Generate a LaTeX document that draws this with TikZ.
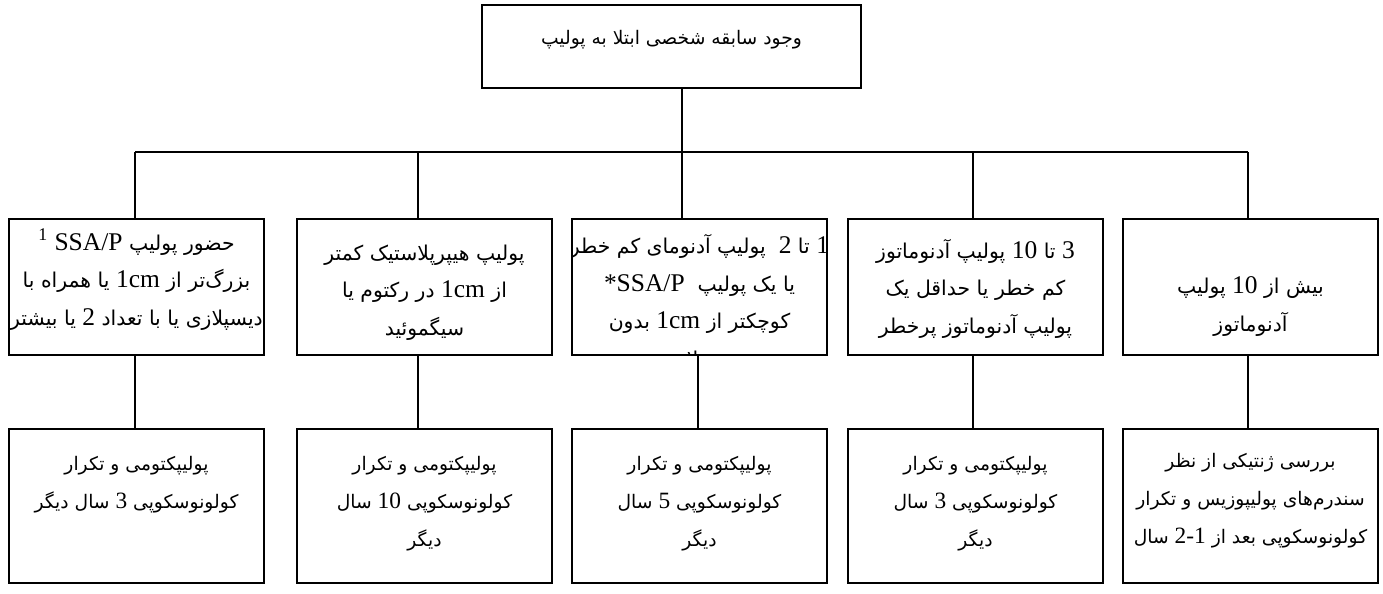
\documentclass[tikz,border=0pt]{standalone}
\usepackage{fontspec}
\setmainfont{Liberation Serif}
\newfontfamily\fafont[Script=Arabic,Scale=0.8]{DejaVu Sans}
\TeXXeTstate=1
\newcommand{\fa}[1]{{\fafont\beginR #1\endR}}
\newcommand{\en}[1]{{\rmfamily\beginL #1\endL}}
\tikzset{box/.style={draw,line width=1pt,inner sep=0pt},
	rootbox/.style={box,minimum width=7.58cm,minimum height=1.66cm},
	casebox/.style={box,minimum width=5.1cm,minimum height=2.72cm},
	actbox/.style={box,minimum width=5.1cm,minimum height=3.08cm},
	txt/.style={anchor=base,align=center,inner sep=0pt,
		font=\fontsize{14.5}{21.3}\selectfont},
	small/.style={txt,font=\fontsize{13.3}{21.5}\selectfont},
	link/.style={draw,line width=1pt}}

\begin{document}
\begin{tikzpicture}[x=0.02cm,y=-0.02cm]
\useasboundingbox (0,0) rectangle (1383,593);
\node [rootbox] (root) at (671.5,46.5) {};
\node [small] (roott) at (671.5,44) {\fa{وجود سابقه شخصی ابتلا به پولیپ}};
\coordinate (b1) at (135,152);
\coordinate (b2) at (418,152);
\coordinate (b3) at (682,152);
\coordinate (b4) at (973,152);
\coordinate (b5) at (1248,152);
\coordinate (k3) at (698,400);
\node [casebox] (p1) at (136.5,287) {};
\node [casebox] (p2) at (424.5,287) {};
\node [casebox] (p3) at (699.5,287) {};
\node [casebox] (p4) at (975.5,287) {};
\node [casebox] (p5) at (1250.5,287) {};
\node [actbox] (r1) at (136.5,506) {};
\node [actbox] (r2) at (424.5,506) {};
\node [actbox] (r3) at (699.5,506) {};
\node [actbox] (r4) at (975.5,506) {};
\node [actbox] (r5) at (1250.5,506) {};
% base = last line
\node [txt] (p1t) at (136.5,325) {\fa{حضور پولیپ \en{SSA/P} \en{\textsuperscript{1}}}\\
	\fa{بزرگ‌تر از \en{1cm} یا همراه با}\\
	\fa{دیسپلازی یا با تعداد \en{2} یا بیشتر}};
\node [txt] (p2t) at (424.5,335) {\fa{پولیپ هیپرپلاستیک کمتر}\\
	\fa{از \en{1cm} در رکتوم یا}\\
	\fa{سیگموئید}};
\begin{scope}
\clip (p3.north west) rectangle (p3.south east);
\node [txt] (p3t) at (699.5,366) {\fa{\en{1} تا \en{2} \ پولیپ آدنومای کم خطر}\\
	\fa{یا یک پولیپ \ \en{SSA/P}\en{*}}\\
	\fa{کوچکتر از \en{1cm} بدون}\\
	\fa{دیسپلازی}};
\end{scope}
\node [txt] (p4t) at (975.5,333) {\fa{\en{3} تا \en{10} پولیپ آدنوماتوز}\\
	\fa{کم خطر یا حداقل یک}\\
	\fa{پولیپ آدنوماتوز پرخطر}};
\node [txt] (p5t) at (1250.5,331) {\fa{بیش از \en{10} پولیپ}\\
	\fa{آدنوماتوز}};
\node [small] (r1t) at (136.5,508) {\fa{پولیپکتومی و تکرار}\\
	\fa{کولونوسکوپی \en{3} سال دیگر}};
\node [small] (r2t) at (424.5,546) {\fa{پولیپکتومی و تکرار}\\
	\fa{کولونوسکوپی \en{10} سال}\\
	\fa{دیگر}};
\node [small] (r3t) at (699.5,546) {\fa{پولیپکتومی و تکرار}\\
	\fa{کولونوسکوپی \en{5} سال}\\
	\fa{دیگر}};
\node [small] (r4t) at (975.5,546) {\fa{پولیپکتومی و تکرار}\\
	\fa{کولونوسکوپی \en{3} سال}\\
	\fa{دیگر}};
\node [small] (r5t) at (1250.5,543) {\fa{بررسی ژنتیکی از نظر}\\
	\fa{سندرم‌های پولیپوزیس و تکرار}\\
	\fa{کولونوسکوپی بعد از \en{2-1} سال}};
\path [link] (root.south -| b3) -- (b3);
\path [link] (b1) -- (b5);
\path [link] (b1) -- (b1 |- p1.north);
\path [link] (b2) -- (b2 |- p2.north);
\path [link] (b3) -- (b3 |- p3.north);
\path [link] (b4) -- (b4 |- p4.north);
\path [link] (b5) -- (b5 |- p5.north);
\path [link] (b1 |- p1.south) -- (b1 |- r1.north);
\path [link] (b2 |- p2.south) -- (b2 |- r2.north);
\path [link] (k3 |- p3.south) -- (k3 |- r3.north);
\path [link] (b4 |- p4.south) -- (b4 |- r4.north);
\path [link] (b5 |- p5.south) -- (b5 |- r5.north);
\end{tikzpicture}
\end{document}
